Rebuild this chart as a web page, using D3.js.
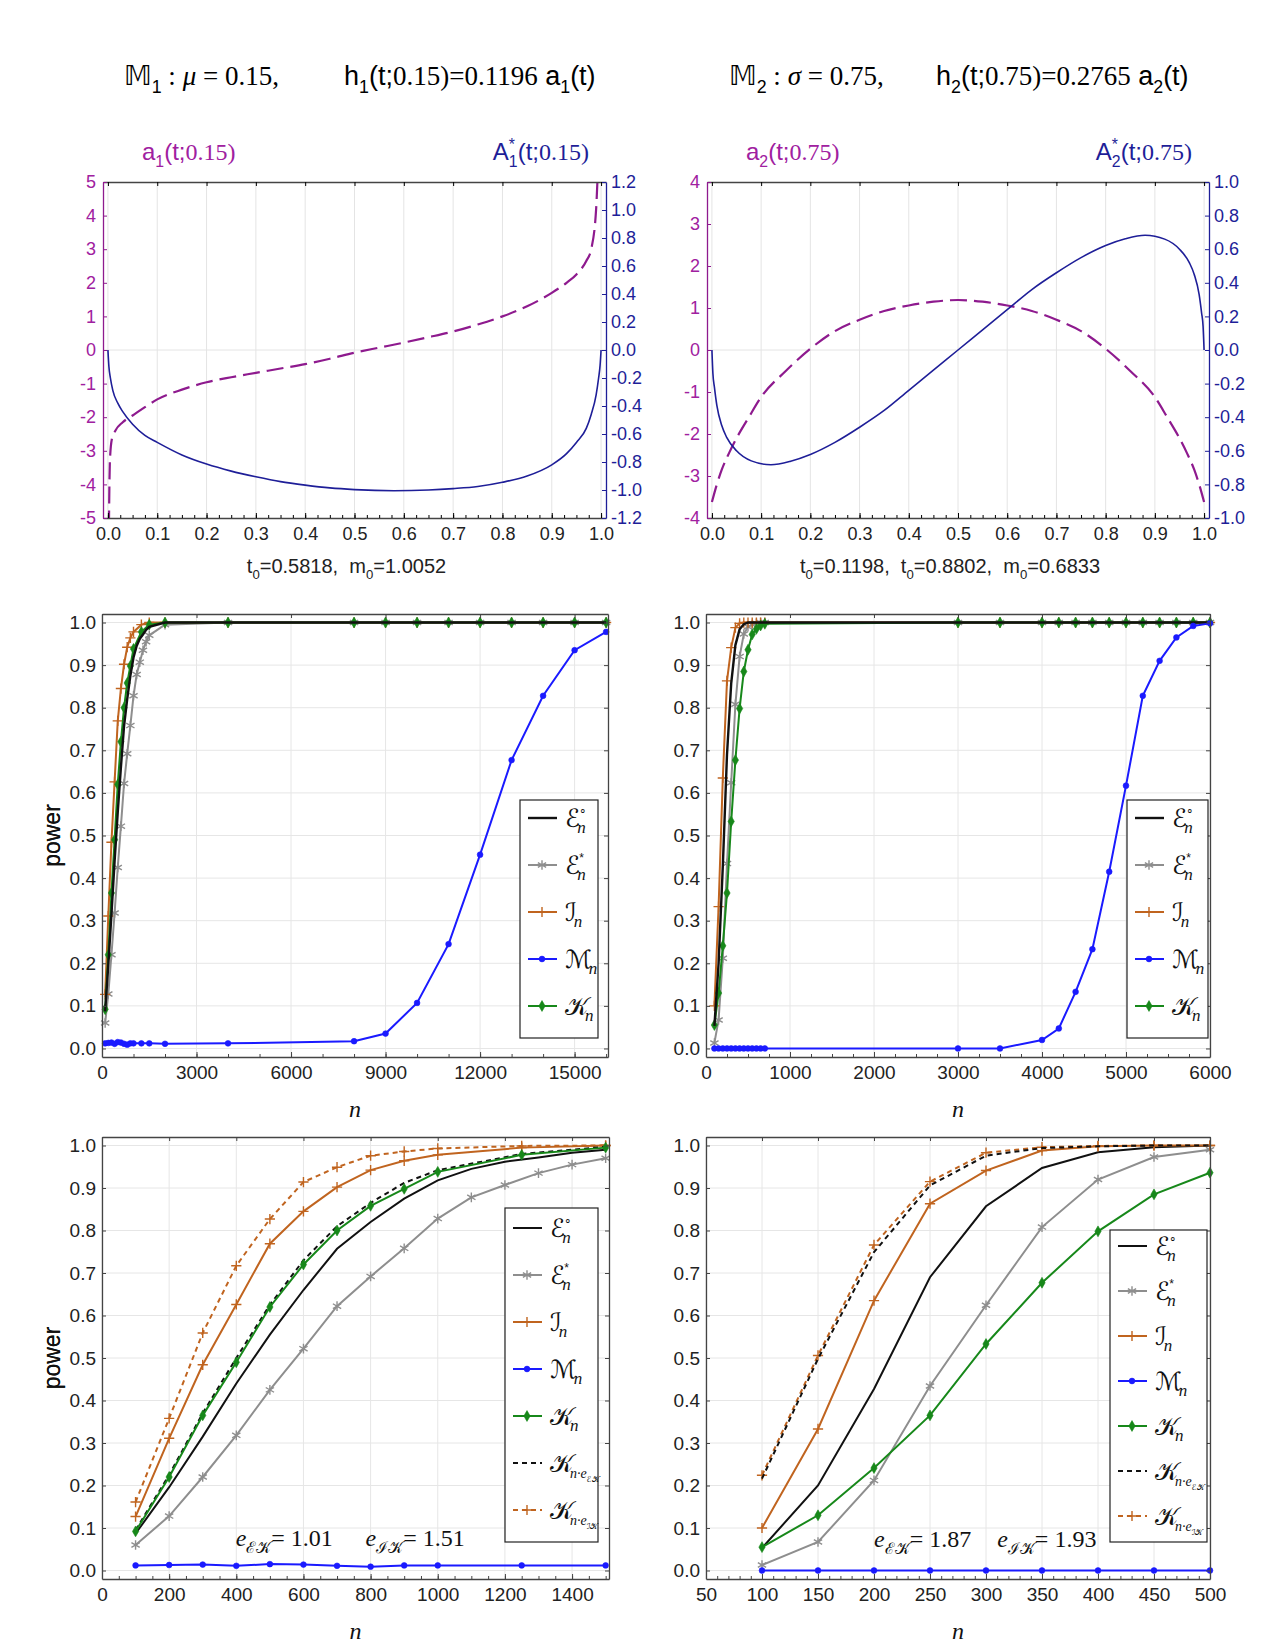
<!DOCTYPE html>
<html>
<head>
<meta charset="utf-8">
<script src="https://cdn.jsdelivr.net/npm/d3@7"></script>
<style>
body { margin:0; background:#fff; }
text { font-family:"Liberation Sans", Arial, sans-serif; }
.serif { font-family:"Liberation Serif", "Times New Roman", serif; }
.cal { font-family:"DejaVu Serif", "DejaVu Sans", serif; }
</style>
</head>
<body>
<svg id="fig" width="1275" height="1650"></svg>
<script>
// ---- top panels : score functions ----
var tA1 = [0.0015, 0.004, 0.008, 0.015, 0.03, 0.05, 0.075, 0.1, 0.15, 0.2, 0.25, 0.3, 0.35, 0.4, 0.45, 0.5, 0.55, 0.6, 0.65, 0.7, 0.75, 0.8, 0.85, 0.9, 0.93, 0.95, 0.97, 0.98, 0.99, 0.995];
var a1Vals = [-6.0, -3.3, -2.65, -2.4, -2.15, -1.95, -1.7, -1.47, -1.18, -0.96, -0.81, -0.68, -0.55, -0.42, -0.26, -0.08, 0.07, 0.22, 0.38, 0.55, 0.76, 1.0, 1.3, 1.7, 2.0, 2.25, 2.65, 3.0, 4.2, 6.0];
var tAs1 = [0, 0.002, 0.005, 0.01, 0.02, 0.03, 0.05, 0.075, 0.1, 0.15, 0.2, 0.25, 0.3, 0.35, 0.4, 0.45, 0.5, 0.58, 0.65, 0.7, 0.75, 0.8, 0.85, 0.9, 0.93, 0.95, 0.97, 0.98, 0.99, 0.995, 0.998, 1.0];
var As1Vals = [0, -0.12, -0.2, -0.29, -0.38, -0.44, -0.53, -0.61, -0.66, -0.75, -0.815, -0.865, -0.905, -0.94, -0.965, -0.985, -0.997, -1.005, -1.0, -0.99, -0.975, -0.945, -0.9, -0.82, -0.74, -0.66, -0.56, -0.46, -0.32, -0.2, -0.11, 0];

var tA2 = [0.0, 0.01, 0.02, 0.035, 0.05, 0.075, 0.1, 0.15, 0.2, 0.25, 0.3, 0.35, 0.4, 0.45, 0.5, 0.55, 0.6, 0.65, 0.7, 0.75, 0.8, 0.85, 0.9, 0.925, 0.95, 0.965, 0.98, 0.99, 1.0];
var a2Vals = [-3.62, -3.2, -2.85, -2.45, -2.1, -1.6, -1.12, -0.5, 0.03, 0.45, 0.72, 0.93, 1.06, 1.15, 1.19, 1.15, 1.06, 0.93, 0.72, 0.45, 0.03, -0.5, -1.12, -1.6, -2.1, -2.45, -2.85, -3.2, -3.62];
var tAs2 = [0, 0.002, 0.005, 0.01, 0.02, 0.03, 0.05, 0.08, 0.12, 0.16, 0.2, 0.25, 0.3, 0.35, 0.4, 0.45, 0.5, 0.55, 0.6, 0.65, 0.7, 0.75, 0.8, 0.84, 0.88, 0.92, 0.95, 0.97, 0.98, 0.99, 0.995, 0.998, 1.0];
var As2Vals = [0, -0.14, -0.22, -0.33, -0.45, -0.52, -0.6, -0.66, -0.683, -0.662, -0.622, -0.55, -0.46, -0.36, -0.24, -0.12, 0, 0.12, 0.24, 0.36, 0.46, 0.55, 0.622, 0.662, 0.683, 0.66, 0.6, 0.52, 0.45, 0.33, 0.22, 0.14, 0];

var tTicks = [0, 0.1, 0.2, 0.3, 0.4, 0.5, 0.6, 0.7, 0.8, 0.9, 1.0];
var leftTicks1 = [-5, -4, -3, -2, -1, 0, 1, 2, 3, 4, 5];
var rightTicks1 = [-1.2, -1.0, -0.8, -0.6, -0.4, -0.2, 0, 0.2, 0.4, 0.6, 0.8, 1.0, 1.2];
var leftTicks2 = [-4, -3, -2, -1, 0, 1, 2, 3, 4];
var rightTicks2 = [-1.0, -0.8, -0.6, -0.4, -0.2, 0, 0.2, 0.4, 0.6, 0.8, 1.0];

// ---- power curves, model M1 (n up to 1500) ----
var nE1 = [100, 200, 300, 400, 500, 600, 700, 800, 900, 1000, 1100, 1200, 1300, 1400, 1500];
var e0M1 = [0.087, 0.196, 0.315, 0.44, 0.555, 0.66, 0.757, 0.82, 0.875, 0.918, 0.945, 0.962, 0.972, 0.983, 0.99];
var esM1 = [0.06, 0.128, 0.22, 0.318, 0.425, 0.522, 0.622, 0.692, 0.758, 0.828, 0.878, 0.907, 0.935, 0.955, 0.97];
var nK1 = [100, 200, 300, 400, 500, 600, 700, 800, 900, 1000, 1250, 1500];
var iM1 = [0.127, 0.311, 0.484, 0.626, 0.769, 0.845, 0.902, 0.942, 0.964, 0.978, 0.995, 1.0];
var mM1 = [0.012, 0.013, 0.014, 0.011, 0.015, 0.014, 0.011, 0.009, 0.012, 0.012, 0.012, 0.012];
var kM1 = [0.092, 0.22, 0.365, 0.49, 0.62, 0.72, 0.80, 0.858, 0.898, 0.938, 0.978, 0.995];
var kEKM1 = [0.095, 0.225, 0.37, 0.5, 0.625, 0.73, 0.81, 0.865, 0.912, 0.942, 0.98, 0.997];
var kIKM1 = [0.161, 0.358, 0.559, 0.717, 0.827, 0.914, 0.949, 0.976, 0.986, 0.993, 0.999, 1.0];
// M1, large n
var nTail1 = [2000, 4000, 8000, 9000, 10000, 11000, 12000, 13000, 14000, 15000, 16000];
var e0Tail1 = [1, 1, 1, 1, 1, 1, 1, 1, 1, 1, 1];
var esTail1 = [0.995, 1, 1, 1, 1, 1, 1, 1, 1, 1, 1];
var iTail1 = [1, 1, 1, 1, 1, 1, 1, 1, 1, 1, 1];
var kTail1 = [1, 1, 1, 1, 1, 1, 1, 1, 1, 1, 1];
var mTail1 = [0.011, 0.012, 0.017, 0.035, 0.107, 0.245, 0.455, 0.677, 0.828, 0.935, 0.978];

// ---- power curves, model M2 (n up to 500) ----
var n2 = [100, 150, 200, 250, 300, 350, 400, 450, 500];
var e0M2 = [0.053, 0.2, 0.427, 0.69, 0.857, 0.947, 0.984, 0.996, 1.0];
var esM2 = [0.013, 0.067, 0.212, 0.434, 0.624, 0.808, 0.92, 0.973, 0.99];
var iM2 = [0.10, 0.333, 0.635, 0.863, 0.941, 0.988, 0.998, 1.0, 1.0];
var mM2 = [0, 0, 0, 0, 0, 0, 0, 0, 0];
var kM2 = [0.055, 0.13, 0.241, 0.365, 0.533, 0.677, 0.798, 0.885, 0.936];
var kEKM2 = [0.216, 0.498, 0.749, 0.906, 0.976, 0.994, 0.998, 1.0, 1.0];
var kIKM2 = [0.224, 0.506, 0.766, 0.915, 0.983, 0.996, 0.999, 1.0, 1.0];
// M2, large n
var nTail2 = [550, 600, 650, 700, 3000, 3500, 4000, 4200, 4400, 4600, 4800, 5000, 5200, 5400, 5600, 5800, 6000];
var e0Tail2 = [1, 1, 1, 1, 1, 1, 1, 1, 1, 1, 1, 1, 1, 1, 1, 1, 1];
var esTail2 = [0.995, 0.998, 1, 1, 1, 1, 1, 1, 1, 1, 1, 1, 1, 1, 1, 1, 1];
var iTail2 = [1, 1, 1, 1, 1, 1, 1, 1, 1, 1, 1, 1, 1, 1, 1, 1, 1];
var kTail2 = [0.972, 0.985, 0.993, 0.997, 1, 1, 1, 1, 1, 1, 1, 1, 1, 1, 1, 1, 1];
var mTail2 = [0, 0, 0, 0, 0, 0, 0.02, 0.047, 0.133, 0.233, 0.415, 0.617, 0.828, 0.91, 0.965, 0.992, 0.998];

var powerTicks = [0, 0.1, 0.2, 0.3, 0.4, 0.5, 0.6, 0.7, 0.8, 0.9, 1.0];
var xTicksML = [0, 3000, 6000, 9000, 12000, 15000];
var xTicksMR = [0, 1000, 2000, 3000, 4000, 5000, 6000];
var xTicksBL = [0, 200, 400, 600, 800, 1000, 1200, 1400];
var xTicksBR = [50, 100, 150, 200, 250, 300, 350, 400, 450, 500];

var cPurple = "#8e1a8e", cPurpleTxt = "#a020a0", cNavy = "#1e1e98";
var cBlack = "#111111", cGray = "#8e8e8e", cBrown = "#c0641f", cBlue = "#1a1aff", cGreen = "#17881a";

var svg = d3.select("#fig");
var fmt1 = function(d) { return d.toFixed(1); };
var fmtInt = function(d) { return String(d); };

// text with sub/superscript pieces ("back" stacks a subscript under the previous superscript)
function rich(sel, parts, size) {
	var shift = 0, prev = null;
	parts.forEach(function(p) {
		var target = p.sub ? size * 0.3 : (p.sup ? -size * 0.42 : 0);
		var ts = sel.append("tspan").attr("dy", target - shift).text(p.t);
		shift = target;
		ts.style("font-size", ((p.sub || p.sup) ? size * 0.66 : size) + "px");
		if (p.f) ts.style("font-family", p.f);
		if (p.i) ts.style("font-style", "italic");
		if (p.c) ts.attr("fill", p.c);
		if (p.back && prev) ts.attr("dx", -prev.node().getComputedTextLength());
		prev = ts;
	});
}

var SERIF = "Liberation Serif, Times New Roman, serif";
var SANS = "Liberation Sans, Arial, sans-serif";
var DBL = "DejaVu Sans, DejaVu Serif, sans-serif";

// ---- titles ----
rich(svg.append("text").attr("x", 124).attr("y", 85), [
	{t:"\uD835\uDD44", f:DBL}, {t:"1", sub:true, f:SANS}, {t:" : ", f:SERIF}, {t:"\u03BC", f:SERIF, i:true}, {t:" = 0.15,", f:SERIF}], 27);
rich(svg.append("text").attr("x", 344).attr("y", 85), [
	{t:"h", f:SANS}, {t:"1", sub:true}, {t:"(t;", f:SANS}, {t:"0.15)=0.1196", f:SERIF}, {t:" a", f:SANS}, {t:"1", sub:true}, {t:"(t)", f:SANS}], 27);
rich(svg.append("text").attr("x", 729).attr("y", 85), [
	{t:"\uD835\uDD44", f:DBL}, {t:"2", sub:true, f:SANS}, {t:" : ", f:SERIF}, {t:"\u03C3", f:SERIF, i:true}, {t:" = 0.75,", f:SERIF}], 27);
rich(svg.append("text").attr("x", 936).attr("y", 85), [
	{t:"h", f:SANS}, {t:"2", sub:true}, {t:"(t;", f:SANS}, {t:"0.75)=0.2765", f:SERIF}, {t:" a", f:SANS}, {t:"2", sub:true}, {t:"(t)", f:SANS}], 27);

function drawTop(p) {
	var g = svg.append("g");
	var x = d3.scaleLinear().domain([-0.01, 1.01]).range([p.x0, p.x1]);
	var yl = d3.scaleLinear().domain(p.leftDomain).range([p.y1, p.y0]);
	var yr = d3.scaleLinear().domain(p.rightDomain).range([p.y1, p.y0]);

	g.selectAll(".vg").data(tTicks).enter().append("line")
		.attr("x1", function(d) { return x(d); }).attr("x2", function(d) { return x(d); })
		.attr("y1", p.y0).attr("y2", p.y1).attr("stroke", "#e4e4e4").attr("stroke-width", 1);
	g.append("line").attr("x1", p.x0).attr("x2", p.x1).attr("y1", yl(0)).attr("y2", yl(0))
		.attr("stroke", "#e4e4e4");

	var clipId = "clip" + p.id;
	svg.append("clipPath").attr("id", clipId).append("rect")
		.attr("x", p.x0).attr("y", p.y0).attr("width", p.x1 - p.x0).attr("height", p.y1 - p.y0);

	var la = d3.line().curve(d3.curveMonotoneX)
		.x(function(d) { return x(d[0]); }).y(function(d) { return yl(d[1]); });
	var ra = d3.line().curve(d3.curveMonotoneX)
		.x(function(d) { return x(d[0]); }).y(function(d) { return yr(d[1]); });

	g.append("path").datum(d3.zip(p.tA, p.aVals)).attr("d", la).attr("clip-path", "url(#" + clipId + ")")
		.attr("fill", "none").attr("stroke", cPurple).attr("stroke-width", 2.2).attr("stroke-dasharray", "17,7");
	g.append("path").datum(d3.zip(p.tAs, p.AsVals)).attr("d", ra).attr("clip-path", "url(#" + clipId + ")")
		.attr("fill", "none").attr("stroke", cNavy).attr("stroke-width", 1.6);

	// axes
	var xb = g.append("g").attr("transform", "translate(0," + p.y1 + ")")
		.call(d3.axisBottom(x).tickValues(tTicks).tickSizeInner(-5).tickSizeOuter(0).tickPadding(9).tickFormat(fmt1));
	g.append("g").attr("transform", "translate(0," + p.y1 + ")")
		.call(d3.axisBottom(x).tickValues(d3.range(0, 1.001, 0.025)).tickSizeInner(-3).tickSizeOuter(0).tickFormat(""))
		.select(".domain").remove();
	g.append("g").attr("transform", "translate(0," + p.y0 + ")")
		.call(d3.axisTop(x).tickValues(tTicks).tickSizeInner(-4).tickSizeOuter(0).tickFormat(""));
	xb.selectAll("text").style("font-size", "18px").attr("fill", "#222");

	var al = g.append("g").attr("transform", "translate(" + p.x0 + ",0)")
		.call(d3.axisLeft(yl).tickValues(p.leftTicks).tickSizeInner(-4).tickSizeOuter(0).tickPadding(7).tickFormat(fmtInt));
	al.selectAll("text").style("font-size", "18px").attr("fill", cPurpleTxt);
	al.selectAll("line").attr("stroke", cPurple);
	al.select(".domain").attr("stroke", cPurple).attr("stroke-width", 1.3);

	var ar = g.append("g").attr("transform", "translate(" + p.x1 + ",0)")
		.call(d3.axisRight(yr).tickValues(p.rightTicks).tickSizeInner(-4).tickSizeOuter(0).tickPadding(5).tickFormat(fmt1));
	ar.selectAll("text").style("font-size", "18px").attr("fill", cNavy);
	ar.selectAll("line").attr("stroke", cNavy);
	ar.select(".domain").attr("stroke", cNavy).attr("stroke-width", 1.3);

	g.selectAll(".domain").filter(function() { return !d3.select(this).attr("stroke-width"); })
		.attr("stroke", "#444").attr("stroke-width", 1.3);

	// series names above the plot
	rich(g.append("text").attr("x", p.x0 + 39).attr("y", 160).attr("fill", cPurpleTxt), [
		{t:"a", f:SANS}, {t:p.k, sub:true}, {t:"(t;", f:SANS}, {t:p.par + ")", f:SERIF}], 24);
	rich(g.append("text").attr("x", p.x1 - 17).attr("y", 160).attr("fill", cNavy).attr("text-anchor", "end"), [
		{t:"A", f:SANS}, {t:"*", sup:true}, {t:p.k, sub:true, back:true}, {t:"(t;", f:SANS}, {t:p.par + ")", f:SERIF}], 24);

	// note under the axis
	var sub = g.append("text").attr("x", (p.x0 + p.x1) / 2 - 8).attr("y", 573).attr("text-anchor", "middle").attr("fill", "#222");
	rich(sub, p.note, 20);
}

drawTop({id:"a", x0:103, x1:606, y0:182, y1:518, leftDomain:[-5, 5], rightDomain:[-1.2, 1.2],
	leftTicks:leftTicks1, rightTicks:rightTicks1, tA:tA1, aVals:a1Vals, tAs:tAs1, AsVals:As1Vals,
	k:"1", par:"0.15",
	note:[{t:"t"}, {t:"0", sub:true}, {t:"=0.5818,\u00A0\u00A0m"}, {t:"0", sub:true}, {t:"=1.0052"}]});
drawTop({id:"b", x0:707, x1:1209, y0:182, y1:518, leftDomain:[-4, 4], rightDomain:[-1, 1],
	leftTicks:leftTicks2, rightTicks:rightTicks2, tA:tA2, aVals:a2Vals, tAs:tAs2, AsVals:As2Vals,
	k:"2", par:"0.75",
	note:[{t:"t"}, {t:"0", sub:true}, {t:"=0.1198,\u00A0\u00A0t"}, {t:"0", sub:true}, {t:"=0.8802,\u00A0\u00A0m"}, {t:"0", sub:true}, {t:"=0.6833"}]});

// ---- markers ----
function markerPath(kind) {
	if (kind === "circle") return d3.symbol(d3.symbolCircle, 26)();
	if (kind === "diamond") return d3.symbol(d3.symbolDiamond, 34)();
	if (kind === "plus") return d3.symbol(d3.symbolPlus || d3.symbolCross, 36)();
	if (kind === "star") return d3.symbol(d3.symbolAsterisk || d3.symbolStar, 64)();
	return null;
}
function styleMarker(sel, s) {
	if (s.marker === "plus" || s.marker === "star") {
		sel.attr("fill", "none").attr("stroke", s.color).attr("stroke-width", 1.4);
	} else {
		sel.attr("fill", s.color).attr("stroke", s.color).attr("stroke-width", 0.6);
	}
}

// legend label: calligraphic letter with stacked super/subscripts
function calLabel(g, x, y, lab) {
	var m = g.append("text").attr("class", "cal").attr("x", x).attr("y", y + 9).style("font-size", "25px").attr("fill", "#111").text(lab.main);
	var w = m.node().getComputedTextLength();
	if (lab.sup) g.append("text").attr("x", x + w - 1).attr("y", y - 3).style("font-size", "12px").attr("fill", "#111").text(lab.sup);
	if (lab.sub) {
		var s = g.append("text").attr("class", "serif").attr("x", x + w - 3).attr("y", y + 15)
			.style("font-size", lab.subsub ? "14px" : "17px").style("font-style", "italic").attr("fill", "#111").text(lab.sub);
		var sw = s.node().getComputedTextLength();
		if (lab.subsub) g.append("text").attr("class", "cal").attr("x", x + w - 3 + sw).attr("y", y + 19)
			.style("font-size", "8px").attr("fill", "#111").text(lab.subsub);
	}
}

var labE0 = {main:"\u2130", sup:"\u2218", sub:"n"};
var labEs = {main:"\u2130", sup:"*", sub:"n"};
var labI = {main:"\u2110", sub:"n"};
var labM = {main:"\u2133", sub:"n"};
var labK = {main:"\uD835\uDCA6", sub:"n"};
var labKEK = {main:"\uD835\uDCA6", sub:"n\u00B7e", subsub:"\u2130\uD835\uDCA6"};
var labKIK = {main:"\uD835\uDCA6", sub:"n\u00B7e", subsub:"\u2110\uD835\uDCA6"};

function drawPower(p) {
	var g = svg.append("g");
	var x = d3.scaleLinear().domain(p.xDomain).range([p.x0, p.x1]);
	var y = d3.scaleLinear().domain([-0.02, 1.02]).range([p.y1, p.y0]);

	g.selectAll(".vg").data(p.xTicks).enter().append("line")
		.attr("x1", function(d) { return x(d); }).attr("x2", function(d) { return x(d); })
		.attr("y1", p.y0).attr("y2", p.y1).attr("stroke", "#e6e6e6");
	g.selectAll(".hg").data(powerTicks).enter().append("line")
		.attr("y1", function(d) { return y(d); }).attr("y2", function(d) { return y(d); })
		.attr("x1", p.x0).attr("x2", p.x1).attr("stroke", "#e6e6e6");

	var line = d3.line().x(function(d) { return x(d[0]); }).y(function(d) { return y(d[1]); });
	p.series.forEach(function(s) {
		var pts = d3.zip(s.n, s.v);
		g.append("path").datum(pts).attr("d", line).attr("fill", "none")
			.attr("stroke", s.color).attr("stroke-width", s.w || 2)
			.attr("stroke-dasharray", s.dash || null);
		if (s.marker) {
			var m = g.selectAll(null).data(pts).enter().append("path")
				.attr("d", markerPath(s.marker))
				.attr("transform", function(d) { return "translate(" + x(d[0]) + "," + y(d[1]) + ")"; });
			styleMarker(m, s);
		}
	});

	// frame and axes
	var xa = g.append("g").attr("transform", "translate(0," + p.y1 + ")")
		.call(d3.axisBottom(x).tickValues(p.xTicks).tickSizeInner(-5).tickSizeOuter(0).tickPadding(9).tickFormat(fmtInt));
	xa.selectAll("text").style("font-size", "19px").attr("fill", "#222");
	g.append("g").attr("transform", "translate(0," + p.y1 + ")")
		.call(d3.axisBottom(x).tickValues(p.xMinor).tickSizeInner(-3).tickSizeOuter(0).tickFormat(""))
		.select(".domain").remove();
	g.append("g").attr("transform", "translate(0," + p.y0 + ")")
		.call(d3.axisTop(x).tickValues(p.xTicks).tickSizeInner(-4).tickSizeOuter(0).tickFormat(""));
	var ya = g.append("g").attr("transform", "translate(" + p.x0 + ",0)")
		.call(d3.axisLeft(y).tickValues(powerTicks).tickSizeInner(-4).tickSizeOuter(0).tickPadding(6).tickFormat(fmt1));
	ya.selectAll("text").style("font-size", "19px").attr("fill", "#222");
	g.append("g").attr("transform", "translate(" + p.x1 + ",0)")
		.call(d3.axisRight(y).tickValues(powerTicks).tickSizeInner(-4).tickSizeOuter(0).tickFormat(""));
	g.selectAll(".domain").attr("stroke", "#444").attr("stroke-width", 1.3);
	g.selectAll(".tick line").attr("stroke", "#444");

	g.append("text").attr("transform", "translate(" + 60 + "," + ((p.y0 + p.y1) / 2) + ") rotate(-90)")
		.attr("text-anchor", "middle").style("font-size", "23px").attr("fill", "#111").text("power");
	g.append("text").attr("class", "serif").attr("x", (p.x0 + p.x1) / 2).attr("y", p.y1 + 60)
		.attr("text-anchor", "middle").style("font-size", "24px").style("font-style", "italic").attr("fill", "#111").text("n");

	// efficiency notes
	(p.notes || []).forEach(function(nt) {
		var t = g.append("text").attr("x", x(nt.n)).attr("y", y(nt.v)).attr("fill", "#111");
		rich(t, [{t:"e", f:SERIF, i:true}, {t:nt.sub, sub:true, f:"DejaVu Serif, serif"}, {t:"= " + nt.val, f:SERIF}], 24);
	});

	// legend
	var L = p.legend;
	var lg = g.append("g");
	lg.append("rect").attr("x", L.x).attr("y", L.y).attr("width", L.w).attr("height", L.h)
		.attr("fill", "#fff").attr("stroke", "#222").attr("stroke-width", 1.2);
	p.series.filter(function(s) { return s.lab; }).sort(function(a, b) { return a.order - b.order; })
		.forEach(function(s, i) {
			var cy = L.y + L.first + i * L.step;
			lg.append("line").attr("x1", L.x + 8).attr("x2", L.x + 37).attr("y1", cy).attr("y2", cy)
				.attr("stroke", s.color).attr("stroke-width", s.w || 2).attr("stroke-dasharray", s.dash || null);
			if (s.marker) {
				var m = lg.append("path").attr("d", markerPath(s.marker)).attr("transform", "translate(" + (L.x + 22) + "," + cy + ")");
				styleMarker(m, s);
			}
			calLabel(lg, L.x + 45, cy, s.lab);
		});
}

function cat(a, b) { return a.concat(b); }

drawPower({x0:102, x1:608, y0:614, y1:1057, xDomain:[0, 16060], xTicks:xTicksML, xMinor:d3.range(0, 16001, 1000),
	series:[
		{n:cat(nE1, nTail1), v:cat(esM1, esTail1), color:cGray, marker:"star", lab:labEs, order:2},
		{n:cat(nK1, nTail1), v:cat(iM1, iTail1), color:cBrown, marker:"plus", lab:labI, order:3},
		{n:cat(nK1, nTail1), v:cat(kM1, kTail1), color:cGreen, marker:"diamond", lab:labK, order:5},
		{n:cat(nE1, nTail1), v:cat(e0M1, e0Tail1), color:cBlack, w:2.4, lab:labE0, order:1},
		{n:cat(nK1, nTail1), v:cat(mM1, mTail1), color:cBlue, marker:"circle", lab:labM, order:4}],
	legend:{x:520, y:800, w:78, h:238, first:18, step:47}});

drawPower({x0:706, x1:1210, y0:614, y1:1057, xDomain:[0, 6000], xTicks:xTicksMR, xMinor:d3.range(0, 6001, 250),
	series:[
		{n:cat(n2, nTail2), v:cat(esM2, esTail2), color:cGray, marker:"star", lab:labEs, order:2},
		{n:cat(n2, nTail2), v:cat(iM2, iTail2), color:cBrown, marker:"plus", lab:labI, order:3},
		{n:cat(n2, nTail2), v:cat(kM2, kTail2), color:cGreen, marker:"diamond", lab:labK, order:5},
		{n:cat(n2, nTail2), v:cat(e0M2, e0Tail2), color:cBlack, w:2.4, lab:labE0, order:1},
		{n:cat(n2, nTail2), v:cat(mM2, mTail2), color:cBlue, marker:"circle", lab:labM, order:4}],
	legend:{x:1127, y:800, w:81, h:238, first:18, step:47}});

drawPower({x0:102, x1:609, y0:1137, y1:1579, xDomain:[0, 1510], xTicks:xTicksBL, xMinor:d3.range(0, 1501, 50),
	series:[
		{n:nE1, v:esM1, color:cGray, marker:"star", lab:labEs, order:2},
		{n:nE1, v:e0M1, color:cBlack, lab:labE0, order:1},
		{n:nK1, v:iM1, color:cBrown, marker:"plus", lab:labI, order:3},
		{n:nK1, v:kIKM1, color:cBrown, marker:"plus", dash:"5,4", lab:labKIK, order:7},
		{n:nK1, v:kEKM1, color:cBlack, dash:"5,4", lab:labKEK, order:6},
		{n:nK1, v:kM1, color:cGreen, marker:"diamond", lab:labK, order:5},
		{n:nK1, v:mM1, color:cBlue, marker:"circle", lab:labM, order:4}],
	notes:[{n:398, v:0.058, sub:"\u2130\uD835\uDCA6", val:"1.01"}, {n:785, v:0.058, sub:"\u2110\uD835\uDCA6", val:"1.51"}],
	legend:{x:505, y:1208, w:93, h:334, first:20, step:47}});

drawPower({x0:706, x1:1210, y0:1137, y1:1579, xDomain:[50, 500], xTicks:xTicksBR, xMinor:d3.range(50, 501, 10),
	series:[
		{n:n2, v:esM2, color:cGray, marker:"star", lab:labEs, order:2},
		{n:n2, v:e0M2, color:cBlack, lab:labE0, order:1},
		{n:n2, v:iM2, color:cBrown, marker:"plus", lab:labI, order:3},
		{n:n2, v:kIKM2, color:cBrown, marker:"plus", dash:"5,4", lab:labKIK, order:7},
		{n:n2, v:kEKM2, color:cBlack, dash:"5,4", lab:labKEK, order:6},
		{n:n2, v:kM2, color:cGreen, marker:"diamond", lab:labK, order:5},
		{n:n2, v:mM2, color:cBlue, marker:"circle", lab:labM, order:4}],
	notes:[{n:200, v:0.055, sub:"\u2130\uD835\uDCA6", val:"1.87"}, {n:310, v:0.055, sub:"\u2110\uD835\uDCA6", val:"1.93"}],
	legend:{x:1110, y:1230, w:97, h:312, first:16, step:45}});
</script>
</body>
</html>
